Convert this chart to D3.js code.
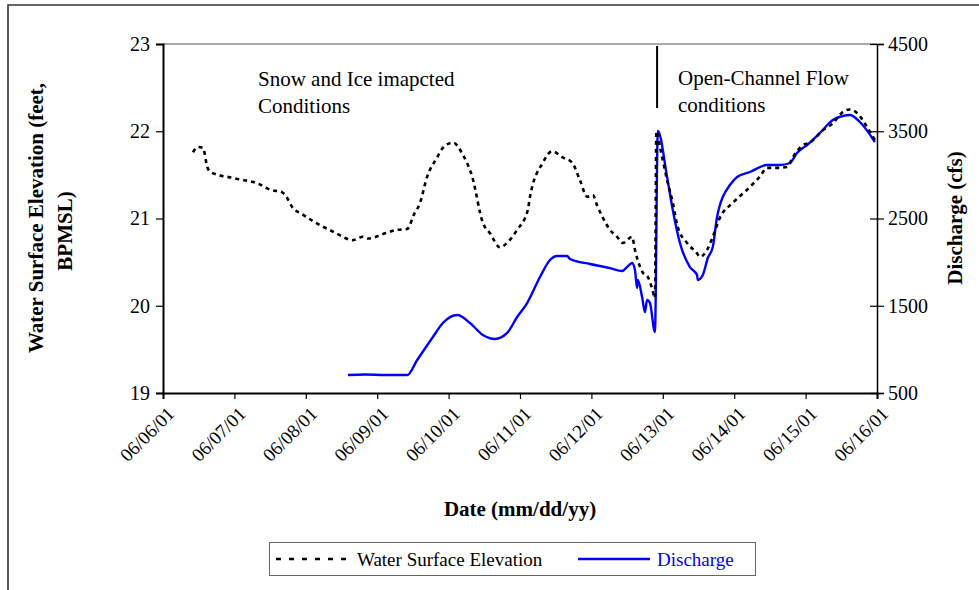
<!DOCTYPE html>
<html>
<head>
<meta charset="utf-8">
<script src="https://cdn.jsdelivr.net/npm/d3@7"></script>
<style>
  body { margin: 0; background: #fff; }
  svg { display: block; font-family: "Liberation Serif", "Times New Roman", serif; }
</style>
</head>
<body>
<svg id="chart" width="979" height="590"></svg>
<script>
// Days since 06/06/01 00:00 and water surface elevation (feet, BPMSL)
const wseDays = [0.42,0.49,0.56,0.62,0.67,1.01,1.33,1.50,1.67,1.72,1.81,1.95,2.10,2.23,2.38,2.52,2.65,2.80,2.87,3.11,3.28,3.42,3.45,3.50,3.60,3.70,3.84,3.92,4.06,4.20,4.33,4.48,4.58,4.72,4.83,4.96,5.11,5.14,5.32,5.45,5.60,5.73,5.84,5.94,6.02,6.08,6.16,6.26,6.36,6.44,6.57,6.61,6.65,6.72,6.79,6.85,6.89,6.91,6.96,7.06,7.14,7.21,7.34,7.48,7.52,7.62,7.70,7.80,7.98,8.18,8.36,8.46,8.60,8.74,8.82,8.96,9.06,9.24,9.38,9.52,9.62,9.72,9.86,9.97];
const wseFeet = [21.76,21.82,21.81,21.59,21.53,21.46,21.40,21.33,21.30,21.26,21.13,21.05,20.97,20.91,20.85,20.79,20.75,20.79,20.77,20.83,20.87,20.88,20.91,21.02,21.18,21.48,21.70,21.81,21.87,21.73,21.48,20.95,20.83,20.67,20.73,20.87,21.10,21.25,21.64,21.77,21.70,21.64,21.44,21.25,21.27,21.15,21.01,20.87,20.79,20.72,20.79,20.64,20.52,20.38,20.33,20.20,20.09,22.00,21.82,21.44,21.18,20.90,20.72,20.60,20.56,20.64,20.79,21.01,21.18,21.33,21.48,21.58,21.58,21.59,21.70,21.84,21.87,22.01,22.09,22.22,22.25,22.21,22.05,21.90];

// Days since 06/06/01 00:00 and discharge (cfs)
const qDays = [2.59,2.83,3.11,3.42,3.56,3.78,3.92,4.12,4.30,4.48,4.65,4.82,4.96,5.10,5.28,5.42,5.52,5.66,5.70,5.98,6.26,6.43,6.50,6.57,6.61,6.64,6.65,6.71,6.75,6.78,6.82,6.89,6.93,7.06,7.14,7.24,7.38,7.48,7.49,7.56,7.63,7.70,7.76,7.80,7.84,7.94,8.04,8.22,8.46,8.64,8.78,8.88,9.02,9.20,9.38,9.52,9.62,9.76,9.97];
const qCfs = [706,712,706,706,878,1142,1302,1394,1302,1165,1119,1188,1371,1531,1829,2024,2070,2070,2036,1978,1932,1898,1944,1990,1910,1703,1795,1600,1428,1566,1531,1199,3503,2976,2597,2219,1944,1852,1795,1852,2047,2173,2517,2655,2746,2884,2976,3033,3113,3113,3136,3251,3342,3480,3629,3675,3686,3606,3377];

const dateTicks = ["06/06/01","06/07/01","06/08/01","06/09/01","06/10/01","06/11/01","06/12/01","06/13/01","06/14/01","06/15/01","06/16/01"];
const leftTicks = [19, 20, 21, 22, 23];
const rightTicks = [500, 1500, 2500, 3500, 4500];

const parseDate = d3.utcParse("%m/%d/%y");
const start = parseDate(dateTicks[0]);
const toDate = d => new Date(start.getTime() + d * 864e5);
const tickDates = dateTicks.map(parseDate);

const svg = d3.select("#chart");
const L = 163, R = 877, T = 44, B = 393;
const FONT = "Liberation Serif";

const x = d3.scaleUtc().domain([tickDates[0], tickDates[tickDates.length - 1]]).range([L, R]);
const yL = d3.scaleLinear().domain([19, 23]).range([B, T]);
const yR = d3.scaleLinear().domain([500, 4500]).range([B, T]);

// outer chart frame (top and left edges)
svg.append("path").attr("d", "M8,590 V5 H979")
  .attr("fill", "none").attr("stroke", "#333").attr("stroke-width", 1.6);

// plot area top border
svg.append("line").attr("x1", L).attr("x2", R).attr("y1", T).attr("y2", T)
  .attr("stroke", "#555").attr("stroke-width", 1.2);

const fmtDate = d3.utcFormat("%m/%d/%y");

// bottom axis
const gx = svg.append("g").attr("transform", `translate(0,${B})`)
  .call(d3.axisBottom(x).tickValues(tickDates).tickFormat(fmtDate).tickSize(6).tickPadding(4));
gx.select(".domain").attr("stroke", "#000").attr("stroke-width", 2);
gx.selectAll(".tick line").attr("stroke", "#000").attr("stroke-width", 1.2);
gx.selectAll(".tick text")
  .attr("font-family", FONT).attr("font-size", 19).attr("fill", "#000")
  .attr("text-anchor", "end").attr("dy", 0)
  .attr("transform", "translate(5,15) rotate(-45)");

// left axis
const gl = svg.append("g").attr("transform", `translate(${L},0)`)
  .call(d3.axisLeft(yL).tickValues(leftTicks).tickFormat(d3.format("d")).tickSize(7).tickPadding(6));
gl.select(".domain").attr("stroke", "#000").attr("stroke-width", 2);
gl.selectAll(".tick line").attr("stroke", "#000").attr("stroke-width", 1.2);
gl.selectAll(".tick text").attr("font-family", FONT).attr("font-size", 20).attr("fill", "#000");

// right axis with crossing ticks
const gr = svg.append("g").attr("transform", `translate(${R},0)`)
  .call(d3.axisRight(yR).tickValues(rightTicks).tickFormat(d3.format("d")).tickSize(7).tickPadding(4));
gr.select(".domain").attr("stroke", "#000").attr("stroke-width", 1.5);
gr.selectAll(".tick line").attr("x1", -7).attr("stroke", "#000").attr("stroke-width", 1.2);
gr.selectAll(".tick text").attr("font-family", FONT).attr("font-size", 20).attr("fill", "#000");

// axis titles
const title = (s, tx, ty, rot) => svg.append("text")
  .attr("transform", `translate(${tx},${ty})` + (rot ? " rotate(-90)" : ""))
  .attr("text-anchor", "middle").attr("font-weight", "bold").attr("font-size", 21)
  .text(s);
title("Water Surface Elevation (feet,", 43, 218, true);
title("BPMSL)", 72, 231, true);
title("Discharge (cfs)", 962, 218, true);
title("Date (mm/dd/yy)", 520, 516, false);

// series
const wseLine = d3.line()
  .x((d, i) => x(toDate(wseDays[i]))).y(d => yL(d))
  .curve(d3.curveMonotoneX);
const qLine = d3.line()
  .x((d, i) => x(toDate(qDays[i]))).y(d => yR(d))
  .curve(d3.curveMonotoneX);

svg.append("path").datum(qCfs).attr("d", qLine)
  .attr("fill", "none").attr("stroke", "#0000ff").attr("stroke-width", 2.4)
  .attr("stroke-linejoin", "round");
svg.append("path").datum(wseFeet).attr("d", wseLine)
  .attr("fill", "none").attr("stroke", "#000").attr("stroke-width", 2.6)
  .attr("stroke-dasharray", "4,4");

// regime divider and annotations
const divide = toDate(6.92);
svg.append("line").attr("x1", x(divide)).attr("x2", x(divide))
  .attr("y1", T + 2).attr("y2", 108).attr("stroke", "#000").attr("stroke-width", 2);

const note = (lines, x0, y0) => {
  const t = svg.append("text").attr("font-size", 21).attr("fill", "#000");
  lines.forEach((s, i) => t.append("tspan").attr("x", x0).attr("y", y0 + i * 27).text(s));
};
note(["Snow and Ice imapcted", "Conditions"], 258, 86);
note(["Open-Channel Flow", "conditions"], 678, 85);

// legend
const lg = svg.append("g");
lg.append("rect").attr("x", 269.5).attr("y", 542.5).attr("width", 486).attr("height", 33)
  .attr("fill", "#fff").attr("stroke", "#666").attr("stroke-width", 1);
lg.append("line").attr("x1", 276).attr("x2", 352).attr("y1", 559).attr("y2", 559)
  .attr("stroke", "#000").attr("stroke-width", 2.6).attr("stroke-dasharray", "5,8");
lg.append("text").attr("x", 357).attr("y", 566).attr("font-size", 19).text("Water Surface Elevation");
lg.append("line").attr("x1", 578).attr("x2", 650).attr("y1", 559).attr("y2", 559)
  .attr("stroke", "#0000ff").attr("stroke-width", 2.4);
lg.append("text").attr("x", 657).attr("y", 566).attr("font-size", 19).attr("fill", "#0000ff").text("Discharge");
</script>
</body>
</html>
